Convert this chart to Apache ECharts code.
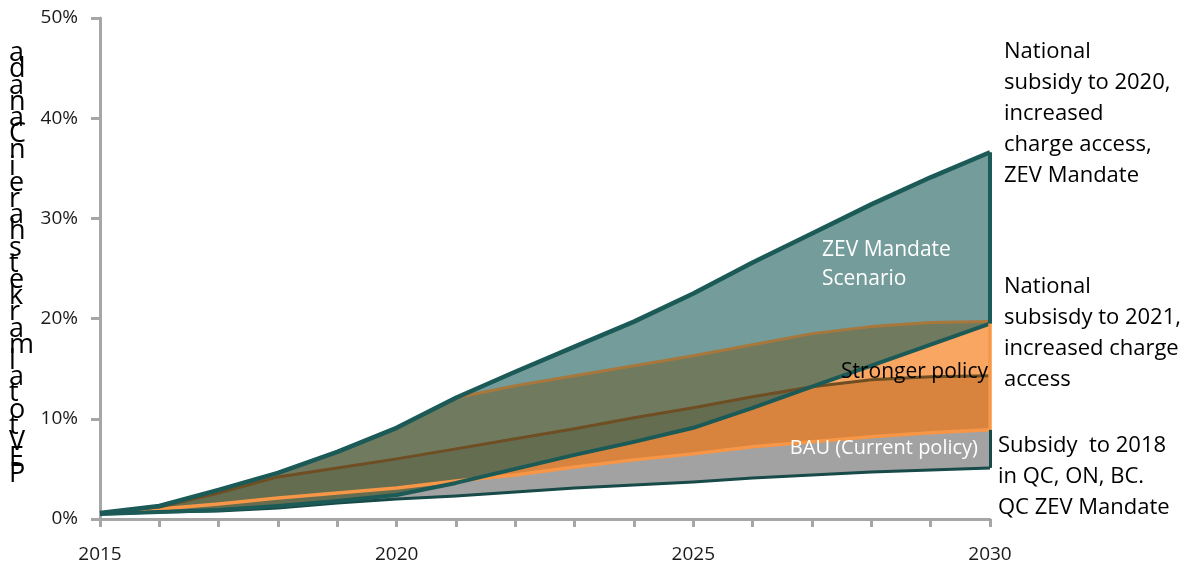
<!DOCTYPE html>
<html>
<head>
<meta charset="utf-8">
<script src="https://cdn.jsdelivr.net/npm/echarts@6/dist/echarts.min.js"></script>
<style>
  html, body { margin: 0; padding: 0; background: #fff; }
  #chart { width: 1191px; height: 569px; }
</style>
</head>
<body>
<div id="chart"></div>
<script>
// Years on the horizontal axis
const years = ['2015','2016','2017','2018','2019','2020','2021','2022','2023','2024','2025','2026','2027','2028','2029','2030'];
const yTicks = [0, 10, 20, 30, 40, 50];

// BAU (current policy): lower bound of the grey band
const bauLow = [0.5, 0.7, 0.8, 1.1, 1.6, 2.0, 2.3, 2.7, 3.1, 3.4, 3.7, 4.1, 4.4, 4.7, 4.9, 5.1];
// Stronger policy: low edge, central path and high edge of the orange band
const strongLow  = [0.6, 1.0, 1.5, 2.1, 2.6, 3.1, 3.8, 4.4, 5.2, 5.9, 6.5, 7.2, 7.7, 8.2, 8.6, 8.9];
const strongMid  = [0.6, 1.2, 2.6, 4.2, 5.1, 6.0, 7.0, 8.0, 9.0, 10.1, 11.1, 12.2, 13.2, 13.9, 14.2, 14.3];
const strongHigh = [0.6, 1.3, 2.9, 4.6, 6.7, 9.1, 12.1, 13.3, 14.3, 15.3, 16.3, 17.4, 18.5, 19.2, 19.6, 19.7];
// ZEV Mandate scenario: low and high edge of the teal band
const zevLow  = [0.5, 0.7, 0.9, 1.3, 1.8, 2.4, 3.6, 5.0, 6.4, 7.7, 9.1, 11.1, 13.2, 15.3, 17.4, 19.5];
const zevHigh = [0.6, 1.3, 2.9, 4.6, 6.7, 9.1, 12.1, 14.7, 17.2, 19.7, 22.5, 25.6, 28.5, 31.4, 34.1, 36.6];

const yTitle = 'PEV total market share in Canada';
const noteZev = ['National', 'subsidy to 2020,', 'increased', 'charge access,', 'ZEV Mandate'];
const noteStrong = ['National', 'subsisdy to 2021,', 'increased charge', 'access'];
const noteBau = ['Subsidy  to 2018', 'in QC, ON, BC.', 'QC ZEV Mandate'];

const FONT = '"Open Sans", "Noto Sans", sans-serif';
const TEAL = '#1b5a57';
const ORANGE = '#f79646';
const GREY = '#a6a6a6';

const diff = (a, b) => a.map((v, i) => +(v - b[i]).toFixed(3));
// the darker lower half of the orange band starts at whichever edge is lower
const strongBase = strongLow.map((v, i) => Math.min(v, zevLow[i]));
const last = years.length - 1;

function hidden(name, stack, data) {
  return { name, type: 'line', stack, data, symbol: 'none', silent: true,
    lineStyle: { opacity: 0 } };
}
function band(name, stack, data, color) {
  return { name, type: 'line', stack, data, symbol: 'none', silent: true,
    lineStyle: { opacity: 0 }, areaStyle: { color, opacity: 1 } };
}
function path(name, data, color, width, extra) {
  return Object.assign({ name, type: 'line', data, symbol: 'none', silent: true,
    lineStyle: { color, width, join: 'round' } }, extra || {});
}
function edge(lo, hi, color, width) {
  return {
    silent: true, symbol: 'none', label: { show: false },
    lineStyle: { color, width, type: 'solid' },
    data: [[{ coord: [years[last], lo[last]] }, { coord: [years[last], hi[last]] }]]
  };
}
function note(left, top, lines) {
  return { type: 'text', left, top, silent: true, z: 100,
    style: { text: lines.join('\n'), font: '22px ' + FONT, fill: '#000', lineHeight: 31 } };
}

const chart = echarts.init(document.getElementById('chart'), null, { renderer: 'canvas' });

chart.setOption({
  animation: false,
  backgroundColor: '#ffffff',
  grid: { left: 100, right: 201, top: 18, bottom: 50 },
  xAxis: {
    type: 'category',
    data: years,
    boundaryGap: false,
    axisLine: { lineStyle: { color: GREY, width: 3 } },
    axisTick: { show: true, interval: 0, length: 8, lineStyle: { color: GREY, width: 3 } },
    axisLabel: { interval: 4, margin: 26, color: '#1a1a1a', fontSize: 19, fontFamily: FONT },
    splitLine: { show: false }
  },
  yAxis: {
    type: 'value',
    min: yTicks[0],
    max: yTicks[yTicks.length - 1],
    interval: 10,
    axisLine: { show: true, lineStyle: { color: GREY, width: 3 } },
    axisTick: { show: true, length: 9, lineStyle: { color: GREY, width: 3 } },
    axisLabel: { formatter: '{value}%', margin: 22, color: '#1a1a1a', fontSize: 19, fontFamily: FONT },
    splitLine: { show: false }
  },
  series: [
    // grey BAU band
    hidden('bau-base', 'bau', bauLow),
    band('BAU', 'bau', diff(strongLow, bauLow), '#a2a2a2'),
    // orange stronger-policy band, darker below the central path
    hidden('strong-base', 'strong', strongBase),
    band('Stronger low', 'strong', diff(strongMid, strongBase), '#d8843e'),
    band('Stronger high', 'strong', diff(strongHigh, strongMid), 'rgba(247,150,70,0.85)'),
    // orange band outlines
    path('strong-low-line', strongLow, ORANGE, 3.5, { markLine: edge(strongLow, strongHigh, ORANGE, 3.5) }),
    path('strong-mid-line', strongMid, '#6e4e22', 3),
    path('strong-high-line', strongHigh, '#a8773c', 3),
    // teal ZEV band on top
    hidden('zev-base', 'zev', zevLow),
    band('ZEV Mandate', 'zev', diff(zevHigh, zevLow), 'rgba(29,95,92,0.62)'),
    path('bau-low-line', bauLow, '#174a48', 3, { markLine: edge(bauLow, strongLow, '#174a48', 3) }),
    path('zev-low-line', zevLow, TEAL, 4),
    path('zev-high-line', zevHigh, TEAL, 4.5, { markLine: edge(zevLow, zevHigh, TEAL, 4) })
  ],
  graphic: [
    {
      type: 'text', left: 9, top: 40, silent: true, z: 100,
      style: {
        text: yTitle.replace(/ /g, '').split('').reverse().join('\n'),
        font: '27px ' + FONT, fill: '#000', lineHeight: 16.2, align: 'center', width: 28
      }
    },
    { type: 'text', left: 822, top: 236, silent: true, z: 100,
      style: { text: 'ZEV Mandate\nScenario', font: '21px ' + FONT, fill: '#ffffff', lineHeight: 29 } },
    { type: 'text', right: 203, top: 362, silent: true, z: 100,
      style: { text: 'Stronger policy', font: '21px ' + FONT, fill: '#000000', align: 'right' } },
    { type: 'text', right: 213, top: 438, silent: true, z: 100,
      style: { text: 'BAU (Current policy)', font: '20px ' + FONT, fill: '#ffffff', align: 'right' } },
    note(1004, 36, noteZev),
    note(1004, 271, noteStrong),
    note(998, 430, noteBau)
  ]
});
</script>
</body>
</html>
